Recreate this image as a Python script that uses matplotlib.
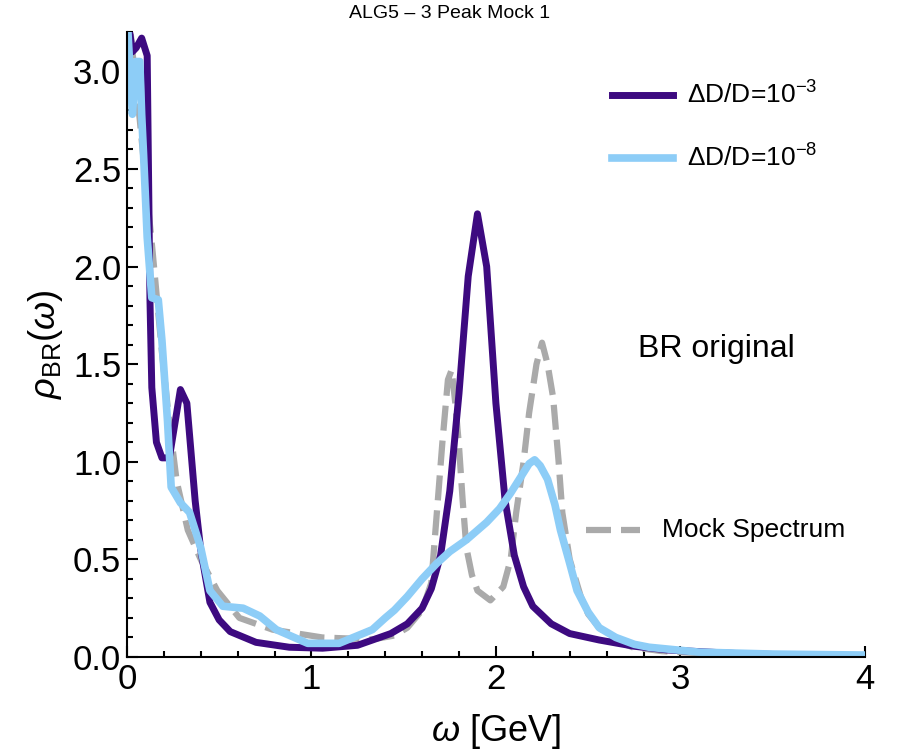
import numpy as np
import matplotlib
matplotlib.use("Agg")
import matplotlib.pyplot as plt
from matplotlib.ticker import MultipleLocator

plt.rcParams['font.family'] = ['Liberation Sans', 'DejaVu Sans']
plt.rcParams['mathtext.fontset'] = 'custom'
plt.rcParams['mathtext.rm'] = 'Liberation Sans'
plt.rcParams['mathtext.it'] = 'Liberation Sans:italic'

# values
# mock spectrum (gray dashed)
mock_w = [0.0, 0.03, 0.07, 0.1, 0.14, 0.19, 0.23, 0.27, 0.33, 0.40, 0.49, 0.61, 0.79,
          1.06, 1.33, 1.45, 1.52, 1.60, 1.65, 1.68, 1.71, 1.74, 1.76, 1.78, 1.80, 1.82,
          1.84, 1.87, 1.90, 1.97, 2.04, 2.08, 2.11, 2.15, 2.18, 2.22, 2.25, 2.28, 2.31,
          2.34, 2.36, 2.40, 2.46, 2.50, 2.56, 2.66, 2.74, 2.9, 3.2, 3.6, 4.0]
mock_rho = [3.4, 3.1, 2.75, 2.45, 2.07, 1.56, 1.2, 0.9, 0.65, 0.50, 0.34, 0.20, 0.14,
            0.10, 0.09, 0.11, 0.15, 0.24, 0.38, 0.74, 1.10, 1.42, 1.47, 1.30, 1.08, 0.80,
            0.56, 0.42, 0.34, 0.29, 0.36, 0.50, 0.74, 1.00, 1.25, 1.50, 1.61, 1.50, 1.33,
            1.00, 0.74, 0.50, 0.31, 0.22, 0.15, 0.08, 0.05, 0.03, 0.015, 0.008, 0.005]

# BR result, dD/D = 1e-3 (purple)
w_a = [0.0, 0.03, 0.05, 0.08, 0.11, 0.125, 0.135, 0.16, 0.19, 0.23, 0.29, 0.325, 0.37,
       0.40, 0.45, 0.50, 0.56, 0.70, 0.88, 1.06, 1.25, 1.43, 1.52, 1.60, 1.65, 1.70,
       1.75, 1.80, 1.85, 1.90, 1.95, 2.00, 2.05, 2.10, 2.15, 2.20, 2.30, 2.40, 2.56,
       2.75, 2.93, 3.3, 3.7, 4.0]
rho_a = [3.3, 3.1, 3.12, 3.17, 3.08, 1.83, 1.38, 1.10, 1.02, 1.02, 1.37, 1.30, 0.80,
         0.55, 0.28, 0.19, 0.13, 0.075, 0.05, 0.045, 0.06, 0.12, 0.17, 0.25, 0.35, 0.52,
         0.85, 1.35, 1.95, 2.27, 2.00, 1.30, 0.80, 0.52, 0.36, 0.26, 0.17, 0.12, 0.087,
         0.055, 0.036, 0.018, 0.008, 0.005]

# BR result, dD/D = 1e-8 (light blue)
w_b = [0.0, 0.02, 0.03, 0.05, 0.07, 0.08, 0.09, 0.11, 0.135, 0.17, 0.19, 0.22, 0.24,
       0.29, 0.34, 0.40, 0.45, 0.52, 0.63, 0.72, 0.81, 0.98, 1.15, 1.33, 1.40, 1.45,
       1.52, 1.60, 1.68, 1.75, 1.84, 1.95, 2.02, 2.08, 2.14, 2.18, 2.21, 2.24, 2.28,
       2.32, 2.35, 2.40, 2.44, 2.50, 2.56, 2.65, 2.75, 2.83, 3.1, 3.5, 4.0]
rho_b = [3.3, 2.95, 2.78, 3.05, 3.05, 2.78, 2.58, 2.15, 1.84, 1.83, 1.62, 1.21, 0.87,
         0.79, 0.74, 0.56, 0.34, 0.26, 0.25, 0.21, 0.14, 0.07, 0.07, 0.14, 0.20, 0.24,
         0.31, 0.40, 0.48, 0.54, 0.60, 0.69, 0.76, 0.84, 0.93, 0.99, 1.01, 0.98, 0.91,
         0.78, 0.65, 0.48, 0.34, 0.23, 0.15, 0.10, 0.065, 0.05, 0.025, 0.015, 0.01]

purple = '#3d0a80'
blue = '#8dcdf7'
gray = '#aaaaaa'

fig = plt.figure(figsize=(9, 7.5), dpi=100)
ax = fig.add_axes([0.141, 0.124, 0.82, 0.833])

ax.plot(mock_w, mock_rho, color=gray, lw=4.5, dashes=(4, 1.6))
ax.plot(w_a, rho_a, color=purple, lw=5)
ax.plot(w_b, rho_b, color=blue, lw=5.5)

ax.set_xlim(0, 4)
ax.set_ylim(0, 3.2)
ax.xaxis.set_major_locator(MultipleLocator(1))
ax.xaxis.set_minor_locator(MultipleLocator(0.2))
ax.yaxis.set_major_locator(MultipleLocator(0.5))
ax.yaxis.set_minor_locator(MultipleLocator(0.1))
ax.set_yticks(np.arange(0, 3.01, 0.5))
ax.set_yticklabels([f'{v:.1f}' for v in np.arange(0, 3.01, 0.5)])
ax.tick_params(which='both', direction='in', width=1.5, labelsize=25, pad=4)
ax.tick_params(which='major', length=8)
ax.tick_params(which='minor', length=4)
ax.spines['top'].set_visible(False)
ax.spines['right'].set_visible(False)
ax.spines['left'].set_linewidth(1.5)
ax.spines['bottom'].set_linewidth(1.5)

ax.set_xlabel(r'$\omega$ [GeV]', fontsize=26, labelpad=12)
ax.set_ylabel(r'$\rho_{\mathrm{BR}}(\omega)$', fontsize=26, labelpad=6)
fig.text(0.5, 0.982, 'ALG5 – 3 Peak Mock 1', ha='center', va='center', fontsize=14)

# hand-placed legend like the original
ax.plot([2.63, 2.96], [2.88, 2.88], color=purple, lw=5)
ax.text(3.035, 2.88, r'$\Delta$D/D=10$^{-3}$', fontsize=19, va='center')
ax.plot([2.63, 2.96], [2.555, 2.555], color=blue, lw=5.5)
ax.text(3.035, 2.555, r'$\Delta$D/D=10$^{-8}$', fontsize=19, va='center')
ax.text(2.77, 1.58, 'BR original', fontsize=23, va='center')
ax.plot([2.49, 2.78], [0.65, 0.65], color=gray, lw=4.5, dashes=(4, 1.6))
ax.text(2.9, 0.65, 'Mock Spectrum', fontsize=19, va='center')

fig.savefig('out.png', dpi=100)
